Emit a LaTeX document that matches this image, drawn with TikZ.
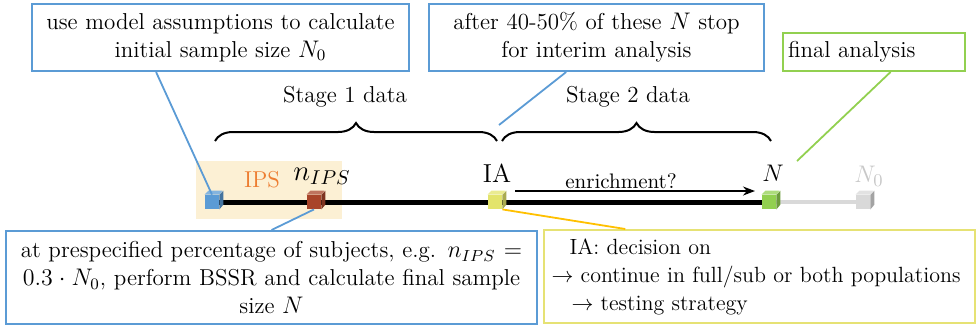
\documentclass[tikz,border=0pt]{standalone}
\usepackage{xcolor}
\usepackage{amsmath}
\usepackage{tikz}
\usetikzlibrary{calc,positioning,arrows.meta,decorations.pathreplacing}

\definecolor{boxblue}{HTML}{5B9BD5}
\definecolor{boxgreen}{HTML}{92D050}
\definecolor{boxyellow}{HTML}{E6E274}
\definecolor{linkyellow}{HTML}{FFC000}
\definecolor{ipsbg}{HTML}{FCF0D4}
\definecolor{ipsorange}{HTML}{ED7D31}
\definecolor{cubebrown}{HTML}{A8452A}
\definecolor{cubeyellow}{HTML}{E3E46C}
\definecolor{cubegray}{HTML}{D9D9D9}
\definecolor{textgray}{HTML}{C8C8C8}

% cube marker: name, position, colour
\newcommand{\markcube}[3]{%
  \node[cubeface, fill=#3] (#1) at #2 {};
  \fill[#3!75!black] (#1.north east) -- ++(4,-4) -- ++(0,14) -- (#1.south east) -- cycle;
  \fill[#3!75!white] (#1.north west) -- ++(4,-4) -- ++(14,0) -- (#1.north east) -- cycle;
}

\tikzset{
  every node/.style={font=\fontsize{11.5}{14}\selectfont},
  infobox/.style={draw=#1, line width=1pt, fill=white, inner sep=0pt, align=center},
  cubeface/.style={minimum size=7pt, inner sep=0pt},
  link/.style={draw=#1, line width=0.9pt},
  stagebrace/.style={line width=1pt, decorate, decoration={brace, amplitude=9pt}},
}

\begin{document}
\begin{tikzpicture}[x=0.5pt, y=-0.5pt]
\useasboundingbox (0,0) rectangle (980,329);

%IPS region
\fill[ipsbg] (196,161) rectangle (342,219);

%Boxes
\node[infobox=boxblue, minimum width=188.5pt, minimum height=33.5pt, text width=186pt] (init) at (220.5,37.5)
  {use model assumptions to calculate\\ initial sample size $N_0$};
\node[infobox=boxblue, minimum width=167.5pt, minimum height=33.5pt, text width=165pt] (interim) at (596.5,37.5)
  {after 40-50\% of these $N$ stop\\ for interim analysis};
\node[infobox=boxgreen, minimum width=91pt, minimum height=19pt, text width=86pt, align=left] (final) at (874,52)
  {final analysis};
\node[infobox=boxblue, minimum width=265.5pt, minimum height=46.5pt, text width=262pt] (bssr) at (271.5,277.5)
  {at prespecified percentage of subjects, e.g. $n_{IPS}=$\\ $0.3\cdot N_0$, perform BSSR and calculate final sample\\ size $N$};
\node[infobox=boxyellow, minimum width=215.5pt, minimum height=46.5pt, inner xsep=3pt, text width=208pt, align=left,
      font=\fontsize{11}{14}\selectfont] (decision) at (759.5,276.5)
  {\hspace*{9pt}IA: decision on\\ $\rightarrow$ continue in full/sub or both populations\\ \hspace*{10pt}$\rightarrow$ testing strategy};

%Stages
\draw[stagebrace] (215,141) -- (497,141);
\draw[stagebrace] (502,141) -- (771,141);
\node (stage1) at (345,97) {Stage 1 data};
\node (stage2) at (628,97) {Stage 2 data};
\coordinate (split) at (499,125);

%Timeline
\draw[cubegray, line width=2pt] (769,202) -- (863,202);
\draw[line width=2.5pt] (212,202) -- (769,202);
\markcube{startcube}{(212,202)}{boxblue}
\markcube{ipscube}{(314,202)}{cubebrown}
\markcube{iacube}{(495,202)}{cubeyellow}
\markcube{endcube}{(769,202)}{boxgreen}
\markcube{initcube}{(863,202)}{cubegray}

%Labels
\node[text=ipsorange] (ips) at (262,180) {IPS};
\node (nips) at (322,176) {\fontsize{14}{14}\selectfont$n_{IPS}$};
\node (ia) at (497,173) {\fontsize{13}{14}\selectfont IA};
\node (nfinal) at (773,173) {\fontsize{13}{14}\selectfont$N$};
\node[text=textgray] (ninit) at (869,176) {\fontsize{13}{14}\selectfont$N_0$};
\coordinate (fintip) at (797,161);

%Enrichment
\coordinate (enrstart) at (515,191);
\coordinate (enrend) at (755,191);
\draw[-{Stealth[length=6pt]}, line width=0.8pt] (enrstart) -- (enrend);
\node (enr) at (621,181) {\fontsize{10.5}{12}\selectfont enrichment?};

%Links
\draw[link=boxblue] ($(init.south west)!0.33!(init.south east)$) -- (startcube.north);
\draw[link=boxblue] ($(interim.south west)!0.41!(interim.south east)$) -- (split);
\draw[link=boxgreen] ($(final.south west)!0.59!(final.south east)$) -- (fintip);
\draw[link=boxblue] (ipscube.south) -- (bssr.north);
\draw[link=linkyellow] (iacube.south east) -- ($(decision.north west)!0.19!(decision.north east)$);

\end{tikzpicture}
\end{document}
